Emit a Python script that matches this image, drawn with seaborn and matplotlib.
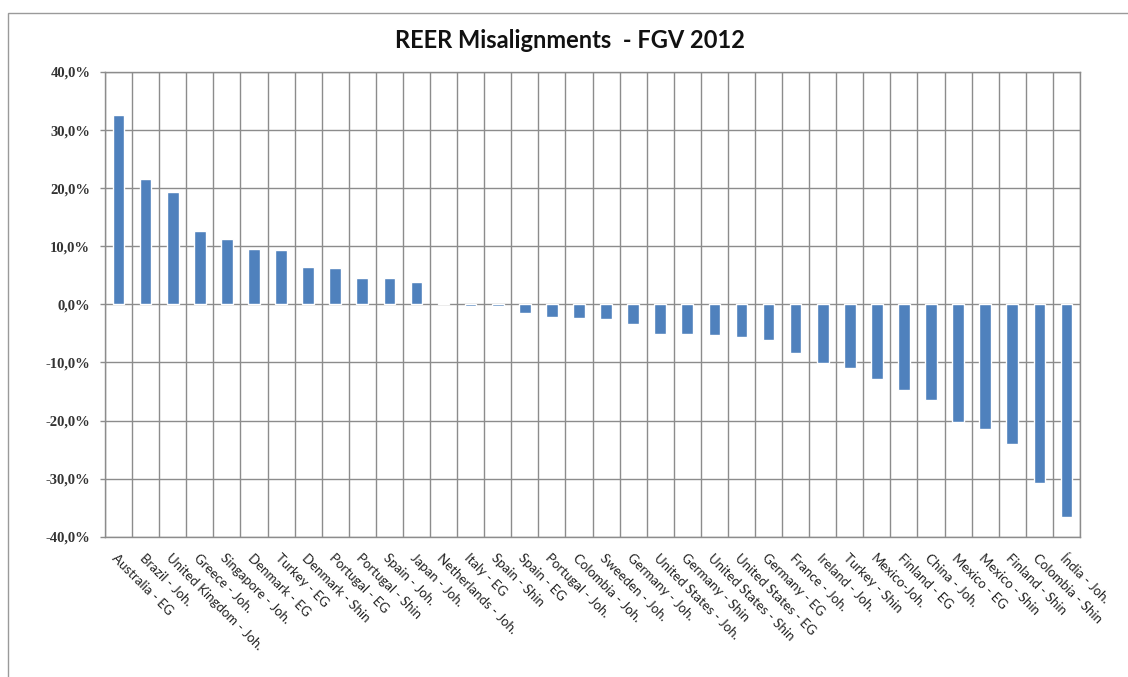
import matplotlib
matplotlib.use("Agg")
import matplotlib.pyplot as plt
import matplotlib.patches as mpatches
import numpy as np
import pandas as pd
import seaborn as sns

# Category labels (country - model) and misalignment in percent
categories = [
    "Australia - EG", "Brazil - Joh.", "United Kingdom - Joh.", "Greece - Joh.",
    "Singapore - Joh.", "Denmark - EG", "Turkey - EG", "Denmark - Shin",
    "Portugal - EG", "Portugal - Shin", "Spain - Joh.", "Japan - Joh.",
    "Netherlands - Joh.", "Italy - EG", "Spain - Shin", "Spain - EG",
    "Portugal - Joh.", "Colombia - Joh.", "Sweeden - Joh.", "Germany - Joh.",
    "United States - Joh.", "Germany - Shin", "United States - Shin",
    "United States - EG", "Germany - EG", "France - Joh.", "Ireland - Joh.",
    "Turkey - Shin", "Mexico-Joh.", "Finland - EG", "China - Joh.",
    "Mexico - EG", "Mexico - Shin", "Finland - Shin", "Colombia - Shin",
    "Índia - Joh.",
]
misalignment = [
    32.6, 21.6, 19.4, 12.7, 11.2, 9.5, 9.3, 6.4, 6.2, 4.5, 4.5, 3.9,
    0.3, -0.2, -0.3, -1.5, -2.2, -2.4, -2.5, -3.3, -5.1, -5.1, -5.2,
    -5.6, -6.2, -8.4, -10.1, -11.0, -12.9, -14.8, -16.5, -20.2, -21.4,
    -24.1, -30.8, -36.6,
]
y_ticks = [40, 30, 20, 10, 0, -10, -20, -30, -40]
y_tick_labels = ["40,0%", "30,0%", "20,0%", "10,0%", "0,0%",
                 "-10,0%", "-20,0%", "-30,0%", "-40,0%"]

df = pd.DataFrame({"label": categories, "value": misalignment})

sns.set_theme(style="white")
plt.rcParams["font.family"] = ["Lato", "DejaVu Sans"]

W, H = 1128, 677
fig = plt.figure(figsize=(W / 100, H / 100), dpi=100)
fig.patch.set_facecolor("white")

# Outer chart frame
frame = mpatches.Rectangle((8 / W, -0.1), 1.2, 1 - 13 / H + 0.1,
                           transform=fig.transFigure, fill=False,
                           edgecolor="#9a9a9a", linewidth=1.0)
fig.patches.append(frame)

left, right, top, bottom = 105, 1080, 72, 536.7
ax = fig.add_axes([left / W, 1 - bottom / H, (right - left) / W, (bottom - top) / H])

sns.barplot(data=df, x="label", y="value", color="#4F81BD", width=0.43,
            saturation=1, ax=ax, zorder=3)

n = len(categories)
ax.set_xlim(-0.5, n - 0.5)
ax.set_ylim(-40, 40)

ax.set_yticks(y_ticks)
ax.set_yticklabels(y_tick_labels, family=["Liberation Serif"], fontsize=10.5,
                   fontweight="bold", color="#333333")
ax.tick_params(axis="y", which="major", direction="out", length=3.6, width=1,
               color="#8c8c8c", left=True, pad=7)

ax.set_xticks(np.arange(n))
ax.set_xticklabels(categories, rotation=-45, ha="left", va="top",
                   rotation_mode="anchor", fontsize=9.5, color="#222222")
ax.tick_params(axis="x", which="major", length=0, pad=11)

# Vertical gridlines sit between categories
ax.set_xticks(np.arange(n + 1) - 0.5, minor=True)
ax.tick_params(axis="x", which="minor", length=0)
ax.grid(True, axis="y", which="major", color="#8c8c8c", linewidth=1.0, zorder=0)
ax.grid(True, axis="x", which="minor", color="#8c8c8c", linewidth=1.0, zorder=0)
ax.set_axisbelow(True)

for s in ax.spines.values():
    s.set_color("#8c8c8c")
    s.set_linewidth(1.0)

ax.set_xlabel("")
ax.set_ylabel("")

fig.text(570 / W, 1 - 40 / H, "REER Misalignments  - FGV 2012",
         ha="center", va="center", fontsize=17, fontweight="bold",
         color="#111111")

fig.savefig("out.png", dpi=100, facecolor="white")
